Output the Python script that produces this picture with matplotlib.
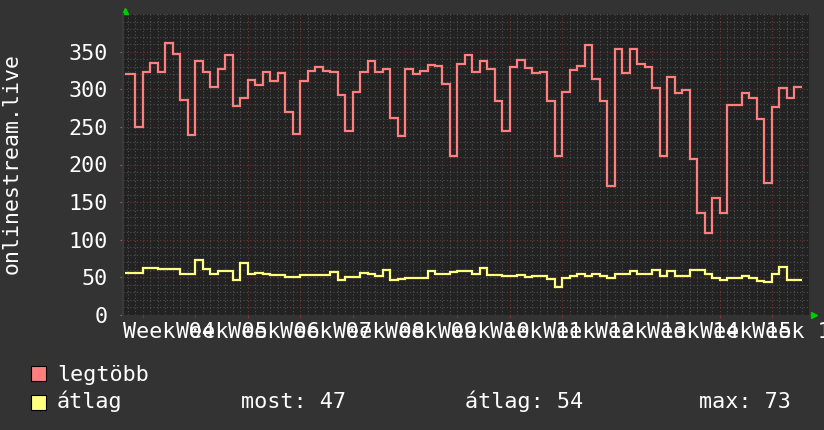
import numpy as np
import matplotlib.pyplot as plt
from matplotlib.patches import Rectangle

plt.rcParams['font.family'] = 'DejaVu Sans Mono'

# napi adatok (90 nap), leolvasva a grafikonrol
legtobb = [320, 250, 323, 335, 323, 362, 347, 286, 239, 338,
           323, 303, 327, 345, 278, 288, 312, 305, 323, 311,
           321, 270, 241, 311, 324, 330, 324, 323, 293, 244,
           296, 323, 338, 323, 327, 262, 238, 327, 320, 324,
           332, 331, 307, 211, 333, 345, 323, 337, 327, 284,
           244, 330, 339, 328, 321, 323, 284, 211, 296, 325,
           331, 359, 314, 284, 172, 354, 321, 354, 334, 330,
           302, 211, 316, 295, 299, 207, 135, 109, 156, 135,
           279, 279, 295, 288, 260, 175, 276, 302, 288, 303]
atlag = [56, 56, 62, 62, 61, 61, 61, 55, 55, 73,
         61, 55, 58, 58, 47, 69, 55, 56, 54, 53,
         53, 51, 51, 53, 53, 53, 53, 57, 46, 50,
         51, 56, 55, 52, 60, 47, 48, 49, 49, 49,
         58, 54, 55, 57, 58, 58, 54, 62, 53, 53,
         52, 52, 53, 50, 52, 52, 48, 37, 49, 52,
         54, 52, 54, 52, 49, 55, 54, 58, 55, 55,
         60, 52, 58, 52, 52, 60, 60, 55, 49, 46,
         49, 49, 52, 49, 45, 44, 55, 64, 47, 47]
het_szamok = list(range(4, 17))  # Week 04 .. Week 16
yticks = [0, 50, 100, 150, 200, 250, 300, 350]

# ido tengely napokban (0 = grafikon bal szele)
kezdet = 0.2
elso_hatar = 1.6
het_kezdet = 2.6
edges = np.r_[kezdet, elso_hatar + np.arange(len(legtobb))]
het_ticks = het_kezdet + 7 * np.arange(len(het_szamok))

FS = 15.7
W, H = 824, 430
fig = plt.figure(figsize=(W / 100, H / 100), dpi=100, facecolor='#333333')
ax = fig.add_axes([123.5 / W, 1 - 315 / H, (809 - 123.5) / W, 301 / H])
ax.set_facecolor('#222222')

ax.stairs(legtobb, edges, baseline=None, color='#ff7f7f', lw=1.6, zorder=3)
ax.stairs(atlag, edges, baseline=None, color='#ffff80', lw=1.6, zorder=3)

ax.set_xlim(0, 91.55)
ax.set_ylim(0, 400)

ax.set_xticks(het_ticks)
ax.set_xticks(np.arange(het_kezdet - 2, 91.5, 1), minor=True)
ax.set_yticks(yticks)
ax.set_yticks(np.arange(0, 401, 10), minor=True)
ax.set_xticklabels([])
ax.set_yticklabels([str(v) for v in yticks], color='white', fontsize=FS)

ax.grid(which='minor', color='#505050', ls=(0, (1, 2)), lw=0.8)
ax.grid(which='major', color='#7a3434', ls=(0, (1, 2)), lw=0.8)
ax.set_axisbelow(True)

ax.tick_params(axis='y', which='major', length=2.2, pad=9, color='#777777')
ax.tick_params(axis='x', which='major', length=2.2, color='#7a3434')
ax.tick_params(which='minor', length=0)
for s in ['top', 'right', 'bottom']:
    ax.spines[s].set_visible(False)
ax.spines['left'].set_color('#3a3a3a')
ax.spines['left'].set_linewidth(1.5)

# het feliratok (a het kozepere igazitva, atfednek)
for t, n in zip(het_ticks, het_szamok):
    ax.text(t + 3.5, -23.3 / 301, f'Week {n:02d}', transform=ax.get_xaxis_transform(),
            ha='center', va='baseline', color='white', fontsize=FS)

fig.text(12 / W, 1 - 164 / H, 'onlinestream.live', rotation=90,
         ha='center', va='center', color='white', fontsize=15.5)

# zold nyilak
ax.plot([125.2 / W], [1 - 10.8 / H], marker='^', color='#00cc00', ms=4,
        transform=fig.transFigure, clip_on=False)
ax.plot([814 / W], [1 - 315 / H], marker='>', color='#00cc00', ms=4,
        transform=fig.transFigure, clip_on=False)

# jelmagyarazat
fig.patches.append(Rectangle((31.5 / W, 1 - 381 / H), 15 / W, 15 / H,
                             facecolor='#ff7f7f', edgecolor='black', lw=0.8,
                             transform=fig.transFigure))
fig.patches.append(Rectangle((31.5 / W, 1 - 409.5 / H), 15 / W, 15 / H,
                             facecolor='#ffff80', edgecolor='black', lw=0.8,
                             transform=fig.transFigure))
fig.text(57 / W, 1 - 380.7 / H, 'legtöbb', color='white', fontsize=FS, va='baseline')
fig.text(57 / W, 1 - 408.5 / H, 'átlag', color='white', fontsize=FS, va='baseline')
fig.text(241 / W, 1 - 408.5 / H, f'most: {atlag[-1]}', color='white', fontsize=FS, va='baseline')
fig.text(465 / W, 1 - 408.5 / H, f'átlag: {round(np.mean(atlag))}', color='white', fontsize=FS, va='baseline')
fig.text(699 / W, 1 - 408.5 / H, f'max: {max(atlag)}', color='white', fontsize=FS, va='baseline')

fig.savefig('out.png', dpi=100, facecolor=fig.get_facecolor())
